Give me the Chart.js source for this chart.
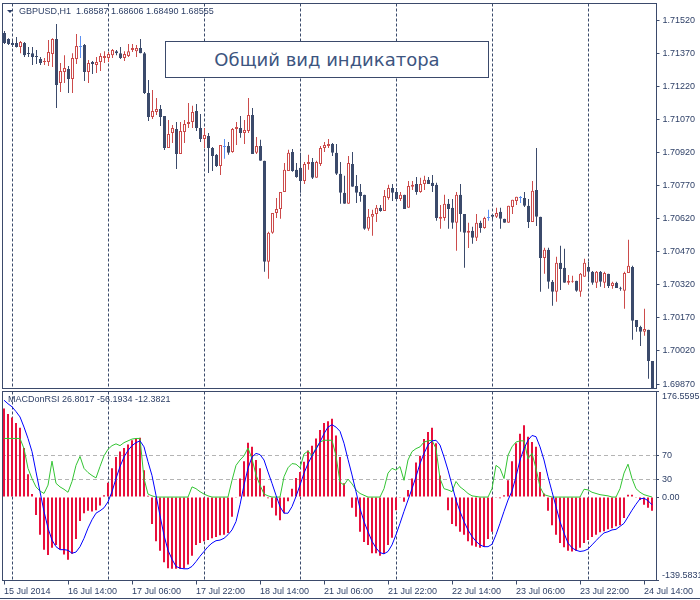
<!DOCTYPE html>
<html>
<head>
<meta charset="utf-8">
<title>GBPUSD,H1 - MACDonRSI</title>
<script src="https://cdn.jsdelivr.net/npm/chart.js@4.4.1/dist/chart.umd.min.js"></script>
<style>
  html, body { margin: 0; padding: 0; background: #fff; }
  #wrap { position: relative; width: 700px; height: 600px; overflow: hidden; font-family: "Liberation Sans", Arial, sans-serif; }
  canvas { position: absolute; left: 0; }
  #priceCanvas { top: 0; }
  #indCanvas { top: 390px; }
  .label { position: absolute; font-size: 9px; line-height: 11px; color: #2d3f66; white-space: pre; }
  #symbol { left: 19px; top: 6px; }
  #indName { left: 8px; top: 394px; }
  #arrow { position: absolute; left: 7px; top: 10px; width: 0; height: 0; border-left: 3px solid transparent; border-right: 3px solid transparent; border-top: 3px solid #2d3f66; }
  #note { position: absolute; left: 165px; top: 41px; width: 322px; height: 35px; border: 1px solid #3b4a6b; background: #fff; color: #3d5580; font: 18px "DejaVu Sans", sans-serif; display: flex; align-items: center; justify-content: center; }
  #bottomLine { position: absolute; left: 0; top: 598px; width: 700px; height: 1px; background: #3b4a6b; }
</style>
</head>
<body>
<div id="wrap">
  <canvas id="priceCanvas" width="700" height="390"></canvas>
  <canvas id="indCanvas" width="700" height="210"></canvas>
  <div id="arrow"></div>
  <div class="label" id="symbol">GBPUSD,H1  1.68587 1.68606 1.68490 1.68555</div>
  <div id="note">Общий вид индикатора</div>
  <div class="label" id="indName">MACDonRSI 26.8017 -56.1934 -12.3821</div>
  <div id="bottomLine"></div>
</div>
<script>
// hourly bars, 15 Jul 22:00 .. 24 Jul 16:00
const opens = [
  1.71461, 1.71434, 1.71416, 1.71416, 1.71398, 1.71416, 1.71370, 1.71370, 1.71357, 1.71343,
  1.71330, 1.71330, 1.71366, 1.71434, 1.71235, 1.71284, 1.71298, 1.71253, 1.71343, 1.71398,
  1.71407, 1.71284, 1.71330, 1.71316, 1.71330, 1.71348, 1.71348, 1.71361, 1.71379, 1.71370,
  1.71348, 1.71357, 1.71384, 1.71379, 1.71393, 1.71370, 1.71189, 1.71081, 1.71103, 1.71117,
  1.71085, 1.70940, 1.71008, 1.71026, 1.70913, 1.71013, 1.71049, 1.71058, 1.71108, 1.71031,
  1.70981, 1.70995, 1.70940, 1.70909, 1.70859, 1.70945, 1.70949, 1.70922, 1.71026, 1.71031,
  1.71008, 1.71017, 1.71090, 1.70918, 1.70949, 1.70882, 1.70424, 1.70556, 1.70646, 1.70664,
  1.70741, 1.70836, 1.70922, 1.70841, 1.70850, 1.70791, 1.70868, 1.70877, 1.70805, 1.70868,
  1.70940, 1.70949, 1.70958, 1.70918, 1.70823, 1.70737, 1.70687, 1.70868, 1.70768, 1.70741,
  1.70728, 1.70574, 1.70628, 1.70641, 1.70669, 1.70655, 1.70714, 1.70759, 1.70741, 1.70709,
  1.70728, 1.70669, 1.70764, 1.70777, 1.70741, 1.70777, 1.70796, 1.70782, 1.70773, 1.70619,
  1.70623, 1.70687, 1.70669, 1.70601, 1.70728, 1.70641, 1.70556, 1.70565, 1.70533, 1.70601,
  1.70578, 1.70623, 1.70637, 1.70628, 1.70651, 1.70619, 1.70601, 1.70673, 1.70700, 1.70714,
  1.70714, 1.70678, 1.70605, 1.70750, 1.70628, 1.70442, 1.70479, 1.70334, 1.70288, 1.70420,
  1.70397, 1.70329, 1.70334, 1.70338, 1.70288, 1.70356, 1.70401, 1.70379, 1.70329, 1.70379,
  1.70329, 1.70370, 1.70315, 1.70329, 1.70306, 1.70293, 1.70374, 1.70401, 1.70161, 1.70129,
  1.70107, 1.70116, 1.69975
];
const highs = [
  1.71470, 1.71438, 1.71425, 1.71443, 1.71425, 1.71420, 1.71398, 1.71398, 1.71384, 1.71352,
  1.71348, 1.71429, 1.71438, 1.71502, 1.71325, 1.71361, 1.71312, 1.71370, 1.71457, 1.71448,
  1.71411, 1.71339, 1.71334, 1.71352, 1.71370, 1.71379, 1.71375, 1.71389, 1.71384, 1.71398,
  1.71379, 1.71411, 1.71411, 1.71407, 1.71434, 1.71375, 1.71248, 1.71203, 1.71167, 1.71135,
  1.71085, 1.71067, 1.71044, 1.71058, 1.71058, 1.71067, 1.71144, 1.71131, 1.71140, 1.71094,
  1.71031, 1.71008, 1.70945, 1.70913, 1.70954, 1.70981, 1.70967, 1.71031, 1.71058, 1.71085,
  1.71067, 1.71167, 1.71121, 1.70990, 1.70977, 1.70882, 1.70560, 1.70646, 1.70714, 1.70741,
  1.70872, 1.70932, 1.70936, 1.70872, 1.70918, 1.70877, 1.70909, 1.70895, 1.70882, 1.70949,
  1.70967, 1.70981, 1.70963, 1.70958, 1.70877, 1.70814, 1.70904, 1.70922, 1.70818, 1.70777,
  1.70728, 1.70664, 1.70660, 1.70682, 1.70682, 1.70750, 1.70773, 1.70777, 1.70759, 1.70741,
  1.70728, 1.70791, 1.70791, 1.70809, 1.70805, 1.70814, 1.70809, 1.70818, 1.70782, 1.70682,
  1.70728, 1.70709, 1.70709, 1.70741, 1.70777, 1.70641, 1.70601, 1.70583, 1.70641, 1.70610,
  1.70628, 1.70660, 1.70641, 1.70669, 1.70669, 1.70619, 1.70678, 1.70705, 1.70719, 1.70723,
  1.70741, 1.70709, 1.70791, 1.70940, 1.70628, 1.70488, 1.70488, 1.70342, 1.70447, 1.70497,
  1.70483, 1.70365, 1.70361, 1.70338, 1.70374, 1.70438, 1.70424, 1.70383, 1.70383, 1.70383,
  1.70379, 1.70370, 1.70334, 1.70334, 1.70311, 1.70379, 1.70524, 1.70406, 1.70161, 1.70134,
  1.70211, 1.70116, 1.69975
];
const lows = [
  1.71411, 1.71407, 1.71398, 1.71396, 1.71370, 1.71352, 1.71352, 1.71316, 1.71321, 1.71316,
  1.71316, 1.71312, 1.71307, 1.71121, 1.71194, 1.71235, 1.71189, 1.71189, 1.71321, 1.71348,
  1.71244, 1.71235, 1.71276, 1.71280, 1.71289, 1.71325, 1.71330, 1.71348, 1.71361, 1.71343,
  1.71334, 1.71352, 1.71375, 1.71352, 1.71370, 1.71185, 1.71063, 1.71072, 1.71090, 1.71040,
  1.70931, 1.70940, 1.70963, 1.70845, 1.70913, 1.70963, 1.71031, 1.71031, 1.71017, 1.70967,
  1.70940, 1.70827, 1.70836, 1.70854, 1.70818, 1.70891, 1.70909, 1.70918, 1.70954, 1.70986,
  1.70958, 1.71008, 1.70913, 1.70913, 1.70882, 1.70379, 1.70347, 1.70551, 1.70623, 1.70619,
  1.70741, 1.70836, 1.70832, 1.70805, 1.70737, 1.70777, 1.70841, 1.70800, 1.70805, 1.70859,
  1.70922, 1.70940, 1.70904, 1.70818, 1.70687, 1.70687, 1.70687, 1.70764, 1.70691, 1.70696,
  1.70569, 1.70565, 1.70542, 1.70605, 1.70651, 1.70655, 1.70705, 1.70700, 1.70709, 1.70700,
  1.70664, 1.70669, 1.70750, 1.70728, 1.70737, 1.70750, 1.70777, 1.70741, 1.70610, 1.70574,
  1.70610, 1.70574, 1.70574, 1.70474, 1.70560, 1.70397, 1.70487, 1.70506, 1.70519, 1.70556,
  1.70574, 1.70610, 1.70610, 1.70623, 1.70574, 1.70601, 1.70601, 1.70641, 1.70682, 1.70691,
  1.70673, 1.70578, 1.70605, 1.70587, 1.70288, 1.70370, 1.70302, 1.70225, 1.70243, 1.70297,
  1.70329, 1.70320, 1.70329, 1.70288, 1.70266, 1.70356, 1.70334, 1.70320, 1.70306, 1.70311,
  1.70306, 1.70306, 1.70302, 1.70306, 1.70293, 1.70211, 1.70374, 1.70071, 1.70107, 1.70043,
  1.70089, 1.69894, 1.69800
];
const closes = [
  1.71416, 1.71411, 1.71407, 1.71398, 1.71420, 1.71361, 1.71366, 1.71352, 1.71352, 1.71325,
  1.71334, 1.71375, 1.71434, 1.71226, 1.71289, 1.71303, 1.71253, 1.71348, 1.71402, 1.71398,
  1.71284, 1.71325, 1.71321, 1.71330, 1.71357, 1.71357, 1.71366, 1.71384, 1.71370, 1.71348,
  1.71366, 1.71379, 1.71393, 1.71393, 1.71370, 1.71189, 1.71081, 1.71108, 1.71117, 1.71081,
  1.70940, 1.71004, 1.71031, 1.70913, 1.71017, 1.71049, 1.71058, 1.71103, 1.71031, 1.70981,
  1.70999, 1.70940, 1.70904, 1.70859, 1.70954, 1.70945, 1.70918, 1.71026, 1.71035, 1.71008,
  1.71022, 1.71090, 1.70913, 1.70949, 1.70882, 1.70424, 1.70556, 1.70646, 1.70664, 1.70741,
  1.70841, 1.70918, 1.70836, 1.70809, 1.70791, 1.70868, 1.70877, 1.70805, 1.70877, 1.70940,
  1.70954, 1.70958, 1.70918, 1.70823, 1.70737, 1.70687, 1.70872, 1.70764, 1.70737, 1.70723,
  1.70574, 1.70628, 1.70641, 1.70669, 1.70655, 1.70723, 1.70759, 1.70737, 1.70709, 1.70728,
  1.70664, 1.70768, 1.70773, 1.70741, 1.70777, 1.70796, 1.70777, 1.70768, 1.70623, 1.70628,
  1.70687, 1.70664, 1.70601, 1.70728, 1.70641, 1.70556, 1.70565, 1.70533, 1.70601, 1.70578,
  1.70623, 1.70623, 1.70628, 1.70646, 1.70619, 1.70601, 1.70678, 1.70705, 1.70719, 1.70714,
  1.70678, 1.70605, 1.70746, 1.70628, 1.70442, 1.70479, 1.70334, 1.70288, 1.70420, 1.70392,
  1.70329, 1.70338, 1.70338, 1.70293, 1.70370, 1.70420, 1.70379, 1.70329, 1.70379, 1.70334,
  1.70374, 1.70315, 1.70329, 1.70306, 1.70302, 1.70374, 1.70406, 1.70157, 1.70129, 1.70107,
  1.70120, 1.69975, 1.69818
];

// MACDonRSI window: histogram, blue line, green line
const histValues = [
  148, 139, 133, 124, 116, 82, 38, 5, -30, -63,
  -88, -97, -85, -80, -87, -96, -105, -95, -70, -40,
  -27, -23, -24, -22, -14, 3, 24, 48, 67, 76,
  82, 88, 95, 98, 99, 45, 2, -45, -74, -90,
  -109, -119, -120, -120, -120, -119, -113, -98, -80, -77,
  -74, -72, -69, -67, -64, -63, -60, -33, -1, 31,
  60, 91, 84, 62, 48, 19, -2, -18, -31, -39,
  -27, -7, 14, 32, 42, 59, 78, 86, 98, 112,
  124, 127, 131, 103, 67, 23, 1, -18, -33, -58,
  -75, -80, -94, -94, -98, -95, -80, -68, -22, -1,
  -8, 12, 31, 58, 69, 97, 109, 116, 90, 36,
  1, -22, -45, -49, -58, -63, -74, -81, -83, -85,
  -83, -70, -58, -1, -2, 3, 28, 60, 90, 106,
  120, 101, 92, 84, 42, 6, -23, -47, -63, -77,
  -84, -90, -91, -90, -85, -77, -72, -67, -63, -59,
  -57, -54, -52, -49, -47, -35, 4, 4, -1, -5,
  -13, -18, -23
];
const blueLine = [
  162, 156, 151, 143, 134, 117, 98, 76, 42, 9,
  -24, -52, -72, -83, -88, -88, -89, -94, -92, -83,
  -69, -52, -38, -27, -23, -18, -8, 9, 31, 51,
  67, 78, 86, 91, 94, 84, 59, 36, 3, -31,
  -64, -89, -104, -116, -119, -120, -120, -116, -108, -99,
  -91, -83, -77, -73, -72, -69, -63, -55, -41, -13,
  20, 48, 67, 73, 71, 62, 42, 23, 3, -16,
  -27, -27, -16, 1, 20, 40, 56, 69, 80, 92,
  106, 117, 121, 117, 110, 90, 63, 37, 9, -19,
  -41, -58, -74, -85, -93, -95, -91, -80, -63, -44,
  -24, -5, 14, 34, 56, 73, 87, 94, 95, 87,
  67, 45, 20, -5, -24, -41, -55, -66, -74, -80,
  -83, -83, -79, -63, -44, -24, -5, 10, 34, 62,
  81, 95, 103, 101, 84, 62, 34, 9, -16, -41,
  -60, -77, -85, -89, -91, -90, -87, -80, -73, -66,
  -60, -58, -55, -54, -49, -44, -33, -22, -12, -3,
  -2, -6, -13
];
const greenLine = [
  98, 98, 98, 98, 98, 81, 48, 31, 17, 10,
  6, 20, 60, 23, 17, 13, 8, 26, 53, 68,
  48, 41, 36, 32, 51, 69, 80, 86, 89, 86,
  91, 94, 97, 98, 98, 31, 5, 2, 0, 0,
  0, 0, 0, 0, 0, 0, 0, 17, 14, 9,
  5, 2, 0, 0, 0, 0, 0, 28, 53, 62,
  69, 82, 64, 37, 20, 5, 2, 0, 0, 0,
  34, 49, 56, 55, 49, 72, 77, 69, 82, 92,
  95, 95, 95, 69, 25, 20, 30, 22, 12, 6,
  3, 0, 0, 0, 0, 14, 40, 48, 45, 51,
  28, 62, 76, 81, 84, 92, 94, 95, 81, 31,
  14, 12, 9, 26, 17, 12, 6, 2, 1, 0,
  0, 0, 14, 53, 48, 31, 70, 84, 92, 94,
  94, 64, 73, 48, 17, 4, 2, 0, 0, 0,
  0, 0, 0, 0, 0, 13, 12, 8, 6, 4,
  3, 2, 0, 0, 14, 40, 55, 31, 14, 8,
  4, 2, 0
];

const priceTicks = [1.69870, 1.70020, 1.70170, 1.70320, 1.70470, 1.70620, 1.70770, 1.70920, 1.71070, 1.71220, 1.71370, 1.71520];
const indicatorTicks = [-139.5831, 0, 30, 70, 176.5595];
const indicatorTickLabels = [['-139.5831', ''], '0.00', '30', '70', ['', '176.5595']];
const levelLines = [30, 70];
const timeLabels = ['15 Jul 2014', '16 Jul 14:00', '17 Jul 06:00', '17 Jul 22:00', '18 Jul 14:00', '21 Jul 06:00',
  '21 Jul 22:00', '22 Jul 14:00', '23 Jul 06:00', '23 Jul 22:00', '24 Jul 14:00'];
const labelStep = 16;
const daySeparators = [2, 26, 50, 74, 98, 122, 146];

const frameColor = '#3b4a6b';
const textColor = '#2d3f66';
const bullColor = '#cc4b4b';
const bearColor = '#3b4a6b';
const dojiColor = '#5a8ff2';
const tickFont = { family: 'Liberation Sans', size: 9 };

function candleColor(i) {
  if (closes[i] > opens[i]) return bullColor;
  if (closes[i] < opens[i]) return bearColor;
  return dojiColor;
}

// keep 1px strokes on whole pixels
const crisp = (v) => Math.floor(v) + 0.5;

// separators, level lines and the panel frame
const panelDecor = {
  id: 'panelDecor',
  beforeDatasetsDraw(chart, args, opts) {
    const { ctx, chartArea: a, scales } = chart;
    ctx.save();
    ctx.lineWidth = 1;
    ctx.strokeStyle = '#b4b4b4';
    ctx.setLineDash([4, 3]);
    (opts.levels || []).forEach((v) => {
      const py = crisp(scales.y.getPixelForValue(v));
      ctx.beginPath();
      ctx.moveTo(a.left, py);
      ctx.lineTo(a.right, py);
      ctx.stroke();
    });
    ctx.strokeStyle = frameColor;
    ctx.setLineDash([3, 2]);
    daySeparators.forEach((i) => {
      const px = crisp(scales.x.getPixelForValue(i));
      ctx.beginPath();
      ctx.moveTo(px, a.top);
      ctx.lineTo(px, a.bottom);
      ctx.stroke();
    });
    ctx.restore();
  },
  afterDatasetsDraw(chart) {
    const { ctx, chartArea: a } = chart;
    const l = crisp(a.left), t = crisp(a.top), r = crisp(a.right), b = crisp(a.bottom);
    ctx.save();
    ctx.strokeStyle = frameColor;
    ctx.lineWidth = 1;
    ctx.strokeRect(l, t, r - l, b - t);
    ctx.restore();
  }
};

const idx = opens.map((_, i) => i);
const xMin = -0.5;
const xMax = opens.length;

function rightAxis(min, max, ticks, labels, width) {
  return {
    position: 'right',
    min: min,
    max: max,
    afterBuildTicks: (axis) => { axis.ticks = ticks.map((v) => ({ value: v })); },
    afterFit: (axis) => { axis.width = width; axis.paddingTop = 0; axis.paddingBottom = 0; },
    grid: { drawOnChartArea: false, tickLength: 3, color: frameColor },
    border: { display: false },
    ticks: { padding: 3, color: textColor, font: tickFont, callback: labels }
  };
}

new Chart(document.getElementById('priceCanvas'), {
  type: 'bar',
  data: {
    datasets: [
      {
        data: idx.map((i) => ({ x: i, y: [opens[i], closes[i]] })),
        backgroundColor: idx.map((i) => (closes[i] > opens[i] ? '#ffffff' : candleColor(i))),
        borderColor: idx.map(candleColor),
        borderWidth: 1,
        borderSkipped: false,
        inflateAmount: 0,
        barThickness: 3,
        minBarLength: 1,
        grouped: false,
        order: 0,
        clip: 0
      },
      {
        data: idx.map((i) => ({ x: i, y: [lows[i], highs[i]] })),
        backgroundColor: idx.map(candleColor),
        borderWidth: 0,
        inflateAmount: 0,
        barThickness: 1,
        grouped: false,
        order: 1,
        clip: 0
      }
    ]
  },
  options: {
    responsive: false,
    animation: false,
    events: [],
    layout: { padding: { left: 2.5, top: 3.5, right: 0, bottom: 1.5 } },
    plugins: { legend: { display: false }, tooltip: { enabled: false } },
    scales: {
      x: { type: 'linear', offset: false, min: xMin, max: xMax, display: false },
      y: rightAxis(1.69850, 1.71595, priceTicks, (v) => v.toFixed(5), 43.5)
    }
  },
  plugins: [panelDecor]
});

new Chart(document.getElementById('indCanvas'), {
  type: 'bar',
  data: {
    datasets: [
      {
        type: 'line',
        data: idx.map((i) => ({ x: i, y: blueLine[i] })),
        borderColor: '#0000ff',
        borderWidth: 1,
        pointRadius: 0,
        order: 0
      },
      {
        type: 'line',
        data: idx.map((i) => ({ x: i, y: greenLine[i] })),
        borderColor: '#33c433',
        borderWidth: 1,
        pointRadius: 0,
        order: 1
      },
      {
        data: idx.map((i) => ({ x: i, y: histValues[i] })),
        backgroundColor: '#e8103c',
        borderWidth: 0,
        inflateAmount: 0,
        barThickness: 2,
        grouped: false,
        order: 2,
        clip: 0
      }
    ]
  },
  options: {
    responsive: false,
    animation: false,
    events: [],
    layout: { padding: { left: 2, top: 1.5, right: 0, bottom: 0 } },
    plugins: { legend: { display: false }, tooltip: { enabled: false }, panelDecor: { levels: levelLines } },
    scales: {
      x: {
        type: 'linear',
        offset: false,
        min: xMin,
        max: xMax,
        position: 'bottom',
        afterBuildTicks: (axis) => { axis.ticks = timeLabels.map((_, k) => ({ value: k * labelStep })); },
        afterFit: (axis) => { axis.height = 19.5; axis.paddingLeft = 0; axis.paddingRight = 0; },
        grid: { drawOnChartArea: false, offset: false, tickLength: 4, color: frameColor },
        border: { display: false },
        ticks: { align: 'start', padding: 2, maxRotation: 0, autoSkip: false, color: textColor, font: tickFont,
          callback: (v, k) => timeLabels[k] }
      },
      y: rightAxis(-139.5831, 176.5595, indicatorTicks, (v, k) => indicatorTickLabels[k], 44)
    }
  },
  plugins: [panelDecor]
});
</script>
</body>
</html>
